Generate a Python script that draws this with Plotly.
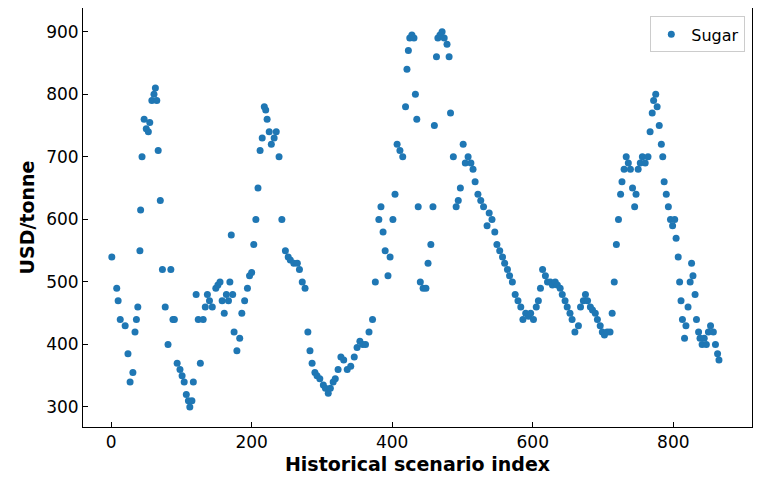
import plotly.graph_objects as go

idx = [1,8,10,13,20,24,27,31,34,36,38,41,42,44,47,50,53,55,58,61,63,65,67,70,73,77,81,85,88,90,94,98,101,104,107,110,112,115,117,121,124,127,131,134,137,140,144,149,152,155,158,161,164,167,169,171,173,175,179,183,186,190,194,197,200,203,206,209,212,215,218,220,222,225,228,232,235,239,243,248,252,255,260,265,268,272,276,280,283,286,290,293,297,302,305,309,312,316,319,323,327,331,336,341,346,350,354,358,362,367,372,376,381,384,387,390,394,397,401,404,407,411,415,419,421,423,425,428,431,433,435,437,440,444,448,451,455,458,460,463,465,468,471,474,478,481,483,487,491,494,497,501,504,508,512,515,518,522,526,530,535,538,542,546,549,553,557,560,564,567,571,575,579,583,586,590,594,597,601,605,608,611,614,618,621,625,628,632,635,639,642,646,649,653,656,660,665,668,672,675,678,682,685,689,692,696,699,702,706,710,713,716,719,722,725,727,730,733,736,739,742,745,747,750,753,756,760,764,767,770,772,775,777,780,783,785,787,790,793,796,799,802,804,807,809,811,813,816,818,821,824,826,828,831,833,836,838,841,844,847,850,853,857,860,863,865,867]
usd = [540,490,470,440,430,385,340,355,420,440,460,550,615,700,760,745,740,755,790,800,810,790,710,630,520,460,400,520,440,440,370,360,350,340,320,310,300,310,340,480,440,370,440,460,480,470,460,490,495,500,470,450,480,470,500,575,480,420,390,410,450,470,490,510,515,560,600,650,710,730,780,775,760,740,720,730,740,700,600,550,540,535,530,530,520,500,490,420,390,370,355,350,345,335,330,322,330,340,345,360,380,375,360,365,380,395,405,400,400,420,440,500,600,620,580,550,510,540,600,640,720,710,700,780,840,870,890,895,890,800,760,620,500,490,490,530,560,620,750,860,890,895,900,890,880,860,770,700,620,630,650,720,690,700,690,680,660,640,630,620,590,610,600,580,560,550,540,530,520,510,500,480,470,460,440,450,445,450,440,460,470,490,520,510,500,500,495,500,495,490,480,470,460,450,440,420,430,460,470,480,470,460,455,450,440,430,420,415,420,420,450,500,560,600,640,660,680,700,690,680,650,620,640,680,690,700,690,700,740,770,790,800,780,750,720,700,660,640,620,600,590,600,570,540,500,470,440,410,430,460,500,530,510,480,440,420,410,400,410,400,420,430,420,400,385,375]

fig = go.Figure(go.Scatter(x=idx, y=usd, mode="markers", name="Sugar",
    marker=dict(color="#1f77b4", size=7)))

ax = dict(showgrid=False, zeroline=False, showline=True, linecolor="black", linewidth=1,
          mirror=True, ticks="inside", ticklen=5, tickcolor="black", automargin=False,
          tickfont=dict(family="DejaVu Sans", size=17, color="black"))
fig.update_layout(
    width=761, height=491, plot_bgcolor="white", paper_bgcolor="white",
    margin=dict(l=75, r=17, t=0, b=72, autoexpand=False),
    xaxis=dict(ax, range=[-40, 912], tickvals=[0,200,400,600,800],
               title=dict(text="<b>Historical scenario index</b>", font=dict(family="DejaVu Sans", size=19, color="black"), standoff=6)),
    yaxis=dict(ax, range=[268, 938], tickvals=[300,400,500,600,700,800,900],
               title=dict(text="<b>USD/tonne</b>", font=dict(family="DejaVu Sans", size=19, color="black"), standoff=6)),
    showlegend=True,
    legend=dict(x=0.99, y=0.98, xanchor="right", yanchor="top", bordercolor="#cccccc", borderwidth=1,
                font=dict(family="DejaVu Sans", size=16, color="black"), bgcolor="white"),
)
fig.write_html("out.html")
